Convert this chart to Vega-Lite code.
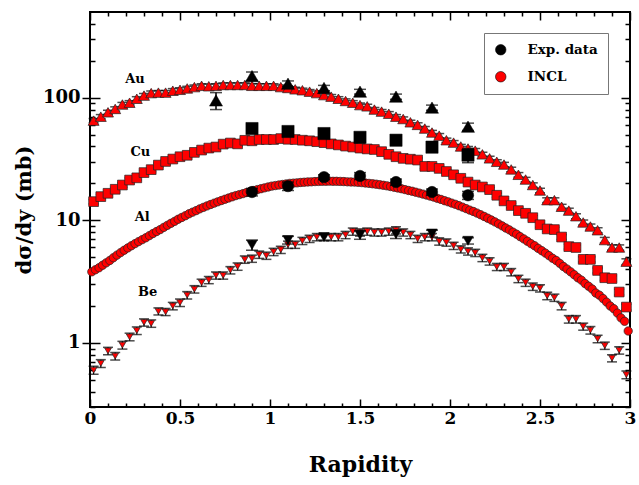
{
  "$schema": "https://vega.github.io/schema/vega-lite/v6.json",
  "width": 540,
  "height": 395,
  "autosize": {"type": "none"},
  "padding": {"left": 90, "top": 12, "right": 9, "bottom": 78},
  "background": "white",
  "config": {
    "font": "DejaVu Serif",
    "view": {"stroke": "black", "strokeWidth": 2},
    "axis": {"grid": false, "domain": false, "tickColor": "black", "tickWidth": 1.5, "labelColor": "black", "titleColor": "black", "labelFont": "DejaVu Serif", "labelFontWeight": "bold", "titleFont": "DejaVu Serif", "titleFontWeight": "bold", "labelOverlap": false, "labelFlush": false}
  },
  "datasets": {
    "incl": [
      {"t":"Au","x":0.02,"v":65,"e":2.6},{"t":"Au","x":0.06,"v":70,"e":2.8},{"t":"Au","x":0.10,"v":76,"e":3},{"t":"Au","x":0.14,"v":81,"e":3.2},{"t":"Au","x":0.18,"v":88,"e":3.5},{"t":"Au","x":0.22,"v":91,"e":3.6},{"t":"Au","x":0.26,"v":98,"e":3.9},{"t":"Au","x":0.30,"v":104,"e":4.2},{"t":"Au","x":0.34,"v":109,"e":4.4},{"t":"Au","x":0.38,"v":110,"e":4.4},{"t":"Au","x":0.42,"v":110,"e":4.4},{"t":"Au","x":0.46,"v":114,"e":4.6},{"t":"Au","x":0.50,"v":116,"e":4.6},{"t":"Au","x":0.54,"v":119,"e":4.8},{"t":"Au","x":0.58,"v":122,"e":4.9},{"t":"Au","x":0.62,"v":125,"e":5},{"t":"Au","x":0.66,"v":124,"e":5},{"t":"Au","x":0.70,"v":125,"e":5},{"t":"Au","x":0.74,"v":127,"e":5.1},{"t":"Au","x":0.78,"v":127,"e":5.1},{"t":"Au","x":0.82,"v":127,"e":5.1},{"t":"Au","x":0.86,"v":127,"e":5.1},{"t":"Au","x":0.90,"v":125,"e":5},{"t":"Au","x":0.94,"v":125,"e":5},{"t":"Au","x":0.98,"v":125,"e":5},{"t":"Au","x":1.02,"v":125,"e":5},{"t":"Au","x":1.06,"v":122,"e":4.9},{"t":"Au","x":1.10,"v":120,"e":4.8},{"t":"Au","x":1.14,"v":117,"e":4.7},{"t":"Au","x":1.18,"v":115,"e":4.6},{"t":"Au","x":1.22,"v":112,"e":4.5},{"t":"Au","x":1.26,"v":109,"e":4.4},{"t":"Au","x":1.30,"v":105,"e":4.2},{"t":"Au","x":1.34,"v":102,"e":4.1},{"t":"Au","x":1.38,"v":98,"e":3.9},{"t":"Au","x":1.42,"v":94,"e":3.8},{"t":"Au","x":1.46,"v":91,"e":3.6},{"t":"Au","x":1.50,"v":87,"e":3.5},{"t":"Au","x":1.54,"v":85,"e":3.4},{"t":"Au","x":1.58,"v":80,"e":3.2},{"t":"Au","x":1.62,"v":77,"e":3.1},{"t":"Au","x":1.66,"v":74,"e":3},{"t":"Au","x":1.70,"v":70,"e":2.8},{"t":"Au","x":1.74,"v":67,"e":2.7},{"t":"Au","x":1.78,"v":63,"e":2.5},{"t":"Au","x":1.82,"v":60,"e":2.4},{"t":"Au","x":1.86,"v":56,"e":2.2},{"t":"Au","x":1.90,"v":52,"e":2.1},{"t":"Au","x":1.94,"v":49,"e":2},{"t":"Au","x":1.98,"v":45,"e":1.8},{"t":"Au","x":2.02,"v":43,"e":1.7},{"t":"Au","x":2.06,"v":40,"e":1.6},{"t":"Au","x":2.10,"v":38.5,"e":1.5},{"t":"Au","x":2.14,"v":37,"e":1.5},{"t":"Au","x":2.18,"v":34.5,"e":1.4},{"t":"Au","x":2.22,"v":32,"e":1.3},{"t":"Au","x":2.26,"v":30,"e":1.2},{"t":"Au","x":2.30,"v":28.5,"e":1.2},{"t":"Au","x":2.34,"v":26,"e":1.1},{"t":"Au","x":2.38,"v":23.5,"e":1},{"t":"Au","x":2.42,"v":21.5,"e":0.9},{"t":"Au","x":2.46,"v":19.4,"e":0.8},{"t":"Au","x":2.50,"v":17.5,"e":0.75},{"t":"Au","x":2.54,"v":14.6,"e":0.65},{"t":"Au","x":2.58,"v":14.6,"e":0.65},{"t":"Au","x":2.62,"v":12.9,"e":0.6},{"t":"Au","x":2.66,"v":12,"e":0.55},{"t":"Au","x":2.70,"v":10.8,"e":0.5},{"t":"Au","x":2.74,"v":9.6,"e":0.45},{"t":"Au","x":2.78,"v":8.9,"e":0.42},{"t":"Au","x":2.82,"v":8.3,"e":0.4},{"t":"Au","x":2.86,"v":6.9,"e":0.35},{"t":"Au","x":2.90,"v":6,"e":0.3},{"t":"Au","x":2.94,"v":6,"e":0.3},{"t":"Au","x":2.98,"v":4.6,"e":0.25},
      {"t":"Cu","x":0.02,"v":14.2,"e":0.6},{"t":"Cu","x":0.06,"v":15.6,"e":0.65},{"t":"Cu","x":0.10,"v":16.6,"e":0.7},{"t":"Cu","x":0.14,"v":17.9,"e":0.75},{"t":"Cu","x":0.18,"v":19.4,"e":0.8},{"t":"Cu","x":0.22,"v":21.3,"e":0.85},{"t":"Cu","x":0.26,"v":22.2,"e":0.9},{"t":"Cu","x":0.30,"v":24.5,"e":1},{"t":"Cu","x":0.34,"v":25.9,"e":1},{"t":"Cu","x":0.38,"v":28.2,"e":1.1},{"t":"Cu","x":0.42,"v":30.2,"e":1.2},{"t":"Cu","x":0.46,"v":31.6,"e":1.3},{"t":"Cu","x":0.50,"v":33,"e":1.3},{"t":"Cu","x":0.54,"v":33.9,"e":1.4},{"t":"Cu","x":0.58,"v":35.8,"e":1.4},{"t":"Cu","x":0.62,"v":37.4,"e":1.5},{"t":"Cu","x":0.66,"v":38.8,"e":1.6},{"t":"Cu","x":0.70,"v":39.6,"e":1.6},{"t":"Cu","x":0.74,"v":41.8,"e":1.7},{"t":"Cu","x":0.78,"v":42.7,"e":1.7},{"t":"Cu","x":0.82,"v":42,"e":1.7},{"t":"Cu","x":0.86,"v":44.9,"e":1.8},{"t":"Cu","x":0.90,"v":44.5,"e":1.8},{"t":"Cu","x":0.94,"v":45.6,"e":1.8},{"t":"Cu","x":0.98,"v":45.6,"e":1.8},{"t":"Cu","x":1.02,"v":45.6,"e":1.8},{"t":"Cu","x":1.06,"v":46.4,"e":1.9},{"t":"Cu","x":1.10,"v":45.8,"e":1.8},{"t":"Cu","x":1.14,"v":45.6,"e":1.8},{"t":"Cu","x":1.18,"v":45,"e":1.8},{"t":"Cu","x":1.22,"v":44.5,"e":1.8},{"t":"Cu","x":1.26,"v":43.8,"e":1.8},{"t":"Cu","x":1.30,"v":43,"e":1.7},{"t":"Cu","x":1.34,"v":42,"e":1.7},{"t":"Cu","x":1.38,"v":41.2,"e":1.6},{"t":"Cu","x":1.42,"v":40.3,"e":1.6},{"t":"Cu","x":1.46,"v":39.6,"e":1.6},{"t":"Cu","x":1.50,"v":38.8,"e":1.6},{"t":"Cu","x":1.54,"v":38.2,"e":1.5},{"t":"Cu","x":1.58,"v":37.8,"e":1.5},{"t":"Cu","x":1.62,"v":36.3,"e":1.5},{"t":"Cu","x":1.66,"v":34.5,"e":1.4},{"t":"Cu","x":1.70,"v":33,"e":1.3},{"t":"Cu","x":1.74,"v":32,"e":1.3},{"t":"Cu","x":1.78,"v":31.5,"e":1.3},{"t":"Cu","x":1.82,"v":31,"e":1.2},{"t":"Cu","x":1.86,"v":27.5,"e":1.1},{"t":"Cu","x":1.90,"v":27.5,"e":1.1},{"t":"Cu","x":1.94,"v":26.5,"e":1.1},{"t":"Cu","x":1.98,"v":25,"e":1},{"t":"Cu","x":2.02,"v":23.5,"e":0.95},{"t":"Cu","x":2.06,"v":22,"e":0.9},{"t":"Cu","x":2.10,"v":20.5,"e":0.85},{"t":"Cu","x":2.14,"v":19.4,"e":0.8},{"t":"Cu","x":2.18,"v":18.7,"e":0.75},{"t":"Cu","x":2.22,"v":17.8,"e":0.7},{"t":"Cu","x":2.26,"v":16,"e":0.65},{"t":"Cu","x":2.30,"v":14.4,"e":0.6},{"t":"Cu","x":2.34,"v":13.2,"e":0.55},{"t":"Cu","x":2.38,"v":12,"e":0.5},{"t":"Cu","x":2.42,"v":11.4,"e":0.5},{"t":"Cu","x":2.46,"v":10.5,"e":0.45},{"t":"Cu","x":2.50,"v":9.2,"e":0.4},{"t":"Cu","x":2.54,"v":8.5,"e":0.38},{"t":"Cu","x":2.58,"v":8.4,"e":0.38},{"t":"Cu","x":2.62,"v":7.3,"e":0.33},{"t":"Cu","x":2.66,"v":6.1,"e":0.28},{"t":"Cu","x":2.70,"v":6.0,"e":0.28},{"t":"Cu","x":2.74,"v":4.8,"e":0.23},{"t":"Cu","x":2.78,"v":4.8,"e":0.23},{"t":"Cu","x":2.82,"v":3.9,"e":0.19},{"t":"Cu","x":2.86,"v":3.4,"e":0.17},{"t":"Cu","x":2.90,"v":3.35,"e":0.17},{"t":"Cu","x":2.94,"v":2.6,"e":0.14},{"t":"Cu","x":2.98,"v":1.96,"e":0.11},
      {"t":"Al","x":0.01,"v":3.8},{"t":"Al","x":0.03,"v":3.95},{"t":"Al","x":0.05,"v":4.1},{"t":"Al","x":0.07,"v":4.3},{"t":"Al","x":0.09,"v":4.5},{"t":"Al","x":0.11,"v":4.7},{"t":"Al","x":0.13,"v":4.95},{"t":"Al","x":0.15,"v":5.2},{"t":"Al","x":0.17,"v":5.45},{"t":"Al","x":0.19,"v":5.7},{"t":"Al","x":0.21,"v":5.95},{"t":"Al","x":0.23,"v":6.2},{"t":"Al","x":0.25,"v":6.45},{"t":"Al","x":0.27,"v":6.7},{"t":"Al","x":0.29,"v":6.95},{"t":"Al","x":0.31,"v":7.2},{"t":"Al","x":0.33,"v":7.5},{"t":"Al","x":0.35,"v":7.8},{"t":"Al","x":0.37,"v":8.1},{"t":"Al","x":0.39,"v":8.4},{"t":"Al","x":0.41,"v":8.75},{"t":"Al","x":0.43,"v":9.1},{"t":"Al","x":0.45,"v":9.45},{"t":"Al","x":0.47,"v":9.8},{"t":"Al","x":0.49,"v":10.2},{"t":"Al","x":0.51,"v":10.55},{"t":"Al","x":0.53,"v":10.9},{"t":"Al","x":0.55,"v":11.3},{"t":"Al","x":0.57,"v":11.65},{"t":"Al","x":0.59,"v":12.0},{"t":"Al","x":0.61,"v":12.4},{"t":"Al","x":0.63,"v":12.75},{"t":"Al","x":0.65,"v":13.1},{"t":"Al","x":0.67,"v":13.45},{"t":"Al","x":0.69,"v":13.8},{"t":"Al","x":0.71,"v":14.15},{"t":"Al","x":0.73,"v":14.5},{"t":"Al","x":0.75,"v":14.85},{"t":"Al","x":0.77,"v":15.2},{"t":"Al","x":0.79,"v":15.55},{"t":"Al","x":0.81,"v":15.9},{"t":"Al","x":0.83,"v":16.2},{"t":"Al","x":0.85,"v":16.5},{"t":"Al","x":0.87,"v":16.85},{"t":"Al","x":0.89,"v":17.2},{"t":"Al","x":0.91,"v":17.5},{"t":"Al","x":0.93,"v":17.8},{"t":"Al","x":0.95,"v":18.1},{"t":"Al","x":0.97,"v":18.4},{"t":"Al","x":0.99,"v":18.7},{"t":"Al","x":1.01,"v":19.0},{"t":"Al","x":1.03,"v":19.2},{"t":"Al","x":1.05,"v":19.4},{"t":"Al","x":1.07,"v":19.6},{"t":"Al","x":1.09,"v":19.8},{"t":"Al","x":1.11,"v":20.0},{"t":"Al","x":1.13,"v":20.1},{"t":"Al","x":1.15,"v":20.2},{"t":"Al","x":1.17,"v":20.35},{"t":"Al","x":1.19,"v":20.45},{"t":"Al","x":1.21,"v":20.55},{"t":"Al","x":1.23,"v":20.6},{"t":"Al","x":1.25,"v":20.7},{"t":"Al","x":1.27,"v":20.75},{"t":"Al","x":1.29,"v":20.8},{"t":"Al","x":1.31,"v":20.8},{"t":"Al","x":1.33,"v":20.85},{"t":"Al","x":1.35,"v":20.8},{"t":"Al","x":1.37,"v":20.8},{"t":"Al","x":1.39,"v":20.75},{"t":"Al","x":1.41,"v":20.7},{"t":"Al","x":1.43,"v":20.6},{"t":"Al","x":1.45,"v":20.55},{"t":"Al","x":1.47,"v":20.5},{"t":"Al","x":1.49,"v":20.4},{"t":"Al","x":1.51,"v":20.3},{"t":"Al","x":1.53,"v":20.15},{"t":"Al","x":1.55,"v":20.0},{"t":"Al","x":1.57,"v":19.85},{"t":"Al","x":1.59,"v":19.7},{"t":"Al","x":1.61,"v":19.5},{"t":"Al","x":1.63,"v":19.3},{"t":"Al","x":1.65,"v":19.1},{"t":"Al","x":1.67,"v":18.85},{"t":"Al","x":1.69,"v":18.6},{"t":"Al","x":1.71,"v":18.35},{"t":"Al","x":1.73,"v":18.1},{"t":"Al","x":1.75,"v":17.8},{"t":"Al","x":1.77,"v":17.5},{"t":"Al","x":1.79,"v":17.25},{"t":"Al","x":1.81,"v":16.95},{"t":"Al","x":1.83,"v":16.65},{"t":"Al","x":1.85,"v":16.35},{"t":"Al","x":1.87,"v":16.05},{"t":"Al","x":1.89,"v":15.75},{"t":"Al","x":1.91,"v":15.45},{"t":"Al","x":1.93,"v":15.1},{"t":"Al","x":1.95,"v":14.8},{"t":"Al","x":1.97,"v":14.45},{"t":"Al","x":1.99,"v":14.15},{"t":"Al","x":2.01,"v":13.8},{"t":"Al","x":2.03,"v":13.5},{"t":"Al","x":2.05,"v":13.15},{"t":"Al","x":2.07,"v":12.8},{"t":"Al","x":2.09,"v":12.45},{"t":"Al","x":2.11,"v":12.1},{"t":"Al","x":2.13,"v":11.8},{"t":"Al","x":2.15,"v":11.45},{"t":"Al","x":2.17,"v":11.1},{"t":"Al","x":2.19,"v":10.75},{"t":"Al","x":2.21,"v":10.4},{"t":"Al","x":2.23,"v":10.05},{"t":"Al","x":2.25,"v":9.7},{"t":"Al","x":2.27,"v":9.35},{"t":"Al","x":2.29,"v":9.0},{"t":"Al","x":2.31,"v":8.65},{"t":"Al","x":2.33,"v":8.35},{"t":"Al","x":2.35,"v":8.0},{"t":"Al","x":2.37,"v":7.7},{"t":"Al","x":2.39,"v":7.35},{"t":"Al","x":2.41,"v":7.05},{"t":"Al","x":2.43,"v":6.75},{"t":"Al","x":2.45,"v":6.45},{"t":"Al","x":2.47,"v":6.2},{"t":"Al","x":2.49,"v":5.9},{"t":"Al","x":2.51,"v":5.65},{"t":"Al","x":2.53,"v":5.4},{"t":"Al","x":2.55,"v":5.15},{"t":"Al","x":2.57,"v":4.9},{"t":"Al","x":2.59,"v":4.7},{"t":"Al","x":2.61,"v":4.45},{"t":"Al","x":2.63,"v":4.2},{"t":"Al","x":2.65,"v":4.0},{"t":"Al","x":2.67,"v":3.8},{"t":"Al","x":2.69,"v":3.6},{"t":"Al","x":2.71,"v":3.4},{"t":"Al","x":2.73,"v":3.25},{"t":"Al","x":2.75,"v":3.05},{"t":"Al","x":2.77,"v":2.9},{"t":"Al","x":2.79,"v":2.75},{"t":"Al","x":2.81,"v":2.55},{"t":"Al","x":2.83,"v":2.45},{"t":"Al","x":2.85,"v":2.3},{"t":"Al","x":2.87,"v":2.15},{"t":"Al","x":2.89,"v":2.0},{"t":"Al","x":2.91,"v":1.9},{"t":"Al","x":2.93,"v":1.75},{"t":"Al","x":2.95,"v":1.6},{"t":"Al","x":2.97,"v":1.5},{"t":"Al","x":2.99,"v":1.25},
      {"t":"Be","x":0.02,"v":0.60,"e":0.045},{"t":"Be","x":0.06,"v":0.68,"e":0.05},{"t":"Be","x":0.10,"v":0.86,"e":0.06},{"t":"Be","x":0.14,"v":0.78,"e":0.055},{"t":"Be","x":0.18,"v":0.96,"e":0.07},{"t":"Be","x":0.22,"v":1.12,"e":0.08},{"t":"Be","x":0.26,"v":1.26,"e":0.09},{"t":"Be","x":0.30,"v":1.47,"e":0.1},{"t":"Be","x":0.34,"v":1.44,"e":0.1},{"t":"Be","x":0.38,"v":1.81,"e":0.12},{"t":"Be","x":0.42,"v":1.79,"e":0.12},{"t":"Be","x":0.46,"v":2.0,"e":0.14},{"t":"Be","x":0.50,"v":2.13,"e":0.15},{"t":"Be","x":0.54,"v":2.45,"e":0.17},{"t":"Be","x":0.58,"v":2.74,"e":0.19},{"t":"Be","x":0.62,"v":3.1,"e":0.21},{"t":"Be","x":0.66,"v":3.26,"e":0.22},{"t":"Be","x":0.70,"v":3.55,"e":0.24},{"t":"Be","x":0.74,"v":3.55,"e":0.24},{"t":"Be","x":0.78,"v":3.92,"e":0.27},{"t":"Be","x":0.82,"v":4.2,"e":0.29},{"t":"Be","x":0.86,"v":4.79,"e":0.33},{"t":"Be","x":0.90,"v":4.87,"e":0.33},{"t":"Be","x":0.94,"v":5.25,"e":0.36},{"t":"Be","x":0.98,"v":5.15,"e":0.35},{"t":"Be","x":1.02,"v":5.53,"e":0.38},{"t":"Be","x":1.06,"v":5.75,"e":0.39},{"t":"Be","x":1.10,"v":6.33,"e":0.43},{"t":"Be","x":1.14,"v":6.33,"e":0.43},{"t":"Be","x":1.18,"v":6.8,"e":0.46},{"t":"Be","x":1.22,"v":7.07,"e":0.48},{"t":"Be","x":1.26,"v":7.3,"e":0.5},{"t":"Be","x":1.30,"v":7.3,"e":0.5},{"t":"Be","x":1.34,"v":7.3,"e":0.5},{"t":"Be","x":1.38,"v":7.3,"e":0.5},{"t":"Be","x":1.42,"v":7.6,"e":0.52},{"t":"Be","x":1.46,"v":8.1,"e":0.55},{"t":"Be","x":1.50,"v":7.97,"e":0.54},{"t":"Be","x":1.54,"v":8.1,"e":0.55},{"t":"Be","x":1.58,"v":7.97,"e":0.54},{"t":"Be","x":1.62,"v":7.97,"e":0.54},{"t":"Be","x":1.66,"v":8.1,"e":0.55},{"t":"Be","x":1.70,"v":8.3,"e":0.56},{"t":"Be","x":1.74,"v":7.97,"e":0.54},{"t":"Be","x":1.78,"v":7.6,"e":0.52},{"t":"Be","x":1.82,"v":7.07,"e":0.48},{"t":"Be","x":1.86,"v":7.3,"e":0.5},{"t":"Be","x":1.90,"v":7.3,"e":0.5},{"t":"Be","x":1.94,"v":6.73,"e":0.46},{"t":"Be","x":1.98,"v":6.6,"e":0.45},{"t":"Be","x":2.02,"v":6.2,"e":0.42},{"t":"Be","x":2.06,"v":5.8,"e":0.39},{"t":"Be","x":2.10,"v":5.58,"e":0.38},{"t":"Be","x":2.14,"v":5.43,"e":0.37},{"t":"Be","x":2.18,"v":4.94,"e":0.34},{"t":"Be","x":2.22,"v":4.63,"e":0.32},{"t":"Be","x":2.26,"v":4.17,"e":0.28},{"t":"Be","x":2.30,"v":4.17,"e":0.28},{"t":"Be","x":2.34,"v":3.78,"e":0.26},{"t":"Be","x":2.38,"v":3.33,"e":0.23},{"t":"Be","x":2.42,"v":3.1,"e":0.21},{"t":"Be","x":2.46,"v":2.88,"e":0.2},{"t":"Be","x":2.50,"v":2.79,"e":0.19},{"t":"Be","x":2.54,"v":2.42,"e":0.17},{"t":"Be","x":2.58,"v":2.34,"e":0.16},{"t":"Be","x":2.62,"v":2.0,"e":0.14},{"t":"Be","x":2.66,"v":1.56,"e":0.11},{"t":"Be","x":2.70,"v":1.56,"e":0.11},{"t":"Be","x":2.74,"v":1.36,"e":0.09},{"t":"Be","x":2.78,"v":1.27,"e":0.09},{"t":"Be","x":2.82,"v":1.08,"e":0.075},{"t":"Be","x":2.86,"v":0.95,"e":0.065},{"t":"Be","x":2.90,"v":0.75,"e":0.05},{"t":"Be","x":2.94,"v":0.87,"e":0.06},{"t":"Be","x":2.98,"v":0.55,"e":0.04}
    ],
    "exp": [
      {"t":"Au","x":0.7,"v":95,"e":15},{"t":"Au","x":0.9,"v":150,"e":12},{"t":"Au","x":1.1,"v":130,"e":7},{"t":"Au","x":1.3,"v":120,"e":6},{"t":"Au","x":1.5,"v":112,"e":5},{"t":"Au","x":1.7,"v":102,"e":5},{"t":"Au","x":1.9,"v":83,"e":4},{"t":"Au","x":2.1,"v":58,"e":4},
      {"t":"Cu","x":0.9,"v":56,"e":4},{"t":"Cu","x":1.1,"v":53,"e":2.5},{"t":"Cu","x":1.3,"v":51,"e":2},{"t":"Cu","x":1.5,"v":47.5,"e":2},{"t":"Cu","x":1.7,"v":45,"e":2},{"t":"Cu","x":1.9,"v":39.5,"e":1.8},{"t":"Cu","x":2.1,"v":34,"e":4.5},
      {"t":"Al","x":0.9,"v":17,"e":1.2},{"t":"Al","x":1.1,"v":19,"e":1.5},{"t":"Al","x":1.3,"v":22.5,"e":1},{"t":"Al","x":1.5,"v":23,"e":1.5},{"t":"Al","x":1.7,"v":20.5,"e":1.2},{"t":"Al","x":1.9,"v":17,"e":1},{"t":"Al","x":2.1,"v":16,"e":1.2},
      {"t":"Be","x":0.9,"v":6.3,"e":0.6},{"t":"Be","x":1.1,"v":6.9,"e":0.5},{"t":"Be","x":1.3,"v":7.3,"e":0.4},{"t":"Be","x":1.5,"v":7.6,"e":0.6},{"t":"Be","x":1.7,"v":7.7,"e":0.6},{"t":"Be","x":1.9,"v":7.8,"e":0.5},{"t":"Be","x":2.1,"v":6.8,"e":0.4}
    ],
    "labels": [
      {"t":"Au","x":0.25,"v":142},{"t":"Cu","x":0.28,"v":36},{"t":"Al","x":0.29,"v":10.7},{"t":"Be","x":0.32,"v":2.6}
    ]
  },
  "layer": [
    {
      "data": {"name": "incl"},
      "transform": [{"filter": "datum.t != 'Al'"}],
      "mark": {"type": "errorbar", "color": "black", "ticks": {"size": 10, "thickness": 1.5}, "rule": {"strokeWidth": 1.2}},
      "encoding": {
        "x": {"field": "x", "type": "quantitative", "scale": {"domain": [0, 3], "nice": false, "zero": false},
              "axis": {"orient": "bottom", "values": [0.1,0.2,0.3,0.4,0.6,0.7,0.8,0.9,1.1,1.2,1.3,1.4,1.6,1.7,1.8,1.9,2.1,2.2,2.3,2.4,2.6,2.7,2.8,2.9], "tickSize": -4, "labels": false, "title": null}},
        "y": {"field": "v", "type": "quantitative", "scale": {"type": "log", "domain": [0.3, 500], "nice": false},
              "axis": {"orient": "left", "values": [0.3,0.4,0.5,0.6,0.7,0.8,0.9,2,3,4,5,6,7,8,9,20,30,40,50,60,70,80,90,200,300,400], "tickSize": -5, "labels": false, "title": null}},
        "yError": {"field": "e"}
      }
    },
    {
      "data": {"name": "incl"},
      "mark": {"type": "point", "filled": true, "stroke": "#222222", "strokeWidth": 0.7, "opacity": 1},
      "encoding": {
        "x": {"field": "x", "type": "quantitative", "scale": {"domain": [0, 3], "nice": false, "zero": false},
              "axis": {"orient": "top", "values": [0.1,0.2,0.3,0.4,0.6,0.7,0.8,0.9,1.1,1.2,1.3,1.4,1.6,1.7,1.8,1.9,2.1,2.2,2.3,2.4,2.6,2.7,2.8,2.9], "tickSize": -4, "labels": false, "title": null}},
        "y": {"field": "v", "type": "quantitative", "scale": {"type": "log", "domain": [0.3, 500], "nice": false},
              "axis": {"orient": "right", "values": [0.3,0.4,0.5,0.6,0.7,0.8,0.9,2,3,4,5,6,7,8,9,20,30,40,50,60,70,80,90,200,300,400], "tickSize": -5, "labels": false, "title": null}},
        "shape": {"field": "t", "type": "nominal", "scale": {"domain": ["Au","Cu","Al","Be"], "range": ["triangle-up","square","circle","triangle-down"]}, "legend": null},
        "size": {"field": "t", "type": "nominal", "scale": {"domain": ["Au","Cu","Al","Be"], "range": [120, 45, 32, 130]}, "legend": null},
        "fill": {"datum": "INCL", "type": "nominal", "scale": {"domain": ["Exp. data","INCL"], "range": ["#000000","#ff0000"]},
                 "legend": {"title": null, "orient": "none", "legendX": 394, "legendY": 21, "symbolType": "circle", "symbolSize": 110, "symbolStrokeColor": "black", "symbolStrokeWidth": 0.6, "labelFont": "DejaVu Serif", "labelFontWeight": "bold", "labelFontSize": 13.5, "labelColor": "black", "labelOffset": 20, "padding": 10, "rowPadding": 12, "strokeColor": "#777777", "fillColor": "white"}}
      }
    },
    {
      "data": {"name": "exp"},
      "mark": {"type": "errorbar", "color": "black", "ticks": {"size": 12, "thickness": 1.5}, "rule": {"strokeWidth": 1.5}},
      "encoding": {
        "x": {"field": "x", "type": "quantitative", "scale": {"domain": [0, 3], "nice": false, "zero": false},
              "axis": {"orient": "top", "values": [0,0.5,1,1.5,2,2.5,3], "tickSize": -8, "labels": false, "title": null}},
        "y": {"field": "v", "type": "quantitative", "scale": {"type": "log", "domain": [0.3, 500], "nice": false},
              "axis": {"orient": "right", "values": [1,10,100], "tickSize": -9, "labels": false, "title": null}},
        "yError": {"field": "e"}
      }
    },
    {
      "data": {"name": "exp"},
      "mark": {"type": "point", "filled": true, "stroke": "black", "strokeWidth": 0.5, "opacity": 1},
      "encoding": {
        "x": {"field": "x", "type": "quantitative", "scale": {"domain": [0, 3], "nice": false, "zero": false},
              "axis": {"orient": "bottom", "values": [0,0.5,1,1.5,2,2.5,3], "format": "~g", "tickSize": -8, "labelFontSize": 17, "labelPadding": 11, "title": "Rapidity", "titleFontSize": 22, "titlePadding": 28}},
        "y": {"field": "v", "type": "quantitative", "scale": {"type": "log", "domain": [0.3, 500], "nice": false},
              "axis": {"orient": "left", "values": [1,10,100], "format": "~g", "tickSize": 8, "labelFontSize": 18, "labelPadding": 2, "title": "dσ/dy (mb)", "titleFontSize": 21, "titlePadding": 8}},
        "shape": {"field": "t", "type": "nominal", "scale": {"domain": ["Au","Cu","Al","Be"], "range": ["triangle-up","square","circle","triangle-down"]}, "legend": null},
        "size": {"field": "t", "type": "nominal", "scale": {"domain": ["Au","Cu","Al","Be"], "range": [170, 110, 110, 170]}, "legend": null},
        "fill": {"datum": "Exp. data", "type": "nominal", "scale": {"domain": ["Exp. data","INCL"], "range": ["#000000","#ff0000"]},
                 "legend": {"title": null, "orient": "none", "legendX": 394, "legendY": 21, "symbolType": "circle", "symbolSize": 110, "symbolStrokeColor": "black", "symbolStrokeWidth": 0.6, "labelFont": "DejaVu Serif", "labelFontWeight": "bold", "labelFontSize": 13.5, "labelColor": "black", "labelOffset": 20, "padding": 10, "rowPadding": 12, "strokeColor": "#777777", "fillColor": "white"}}
      }
    },
    {
      "data": {"name": "labels"},
      "mark": {"type": "text", "font": "DejaVu Serif", "fontWeight": "bold", "fontSize": 13, "color": "black", "align": "center", "baseline": "middle"},
      "encoding": {
        "x": {"field": "x", "type": "quantitative", "scale": {"domain": [0, 3], "nice": false, "zero": false}, "axis": null},
        "y": {"field": "v", "type": "quantitative", "scale": {"type": "log", "domain": [0.3, 500], "nice": false},
              "axis": {"orient": "left", "values": [1,10,100], "tickSize": -10, "labels": false, "title": null}},
        "text": {"field": "t"}
      }
    }
  ],
  "resolve": {"axis": {"x": "independent", "y": "independent"}, "scale": {"size": "independent"}}
}
